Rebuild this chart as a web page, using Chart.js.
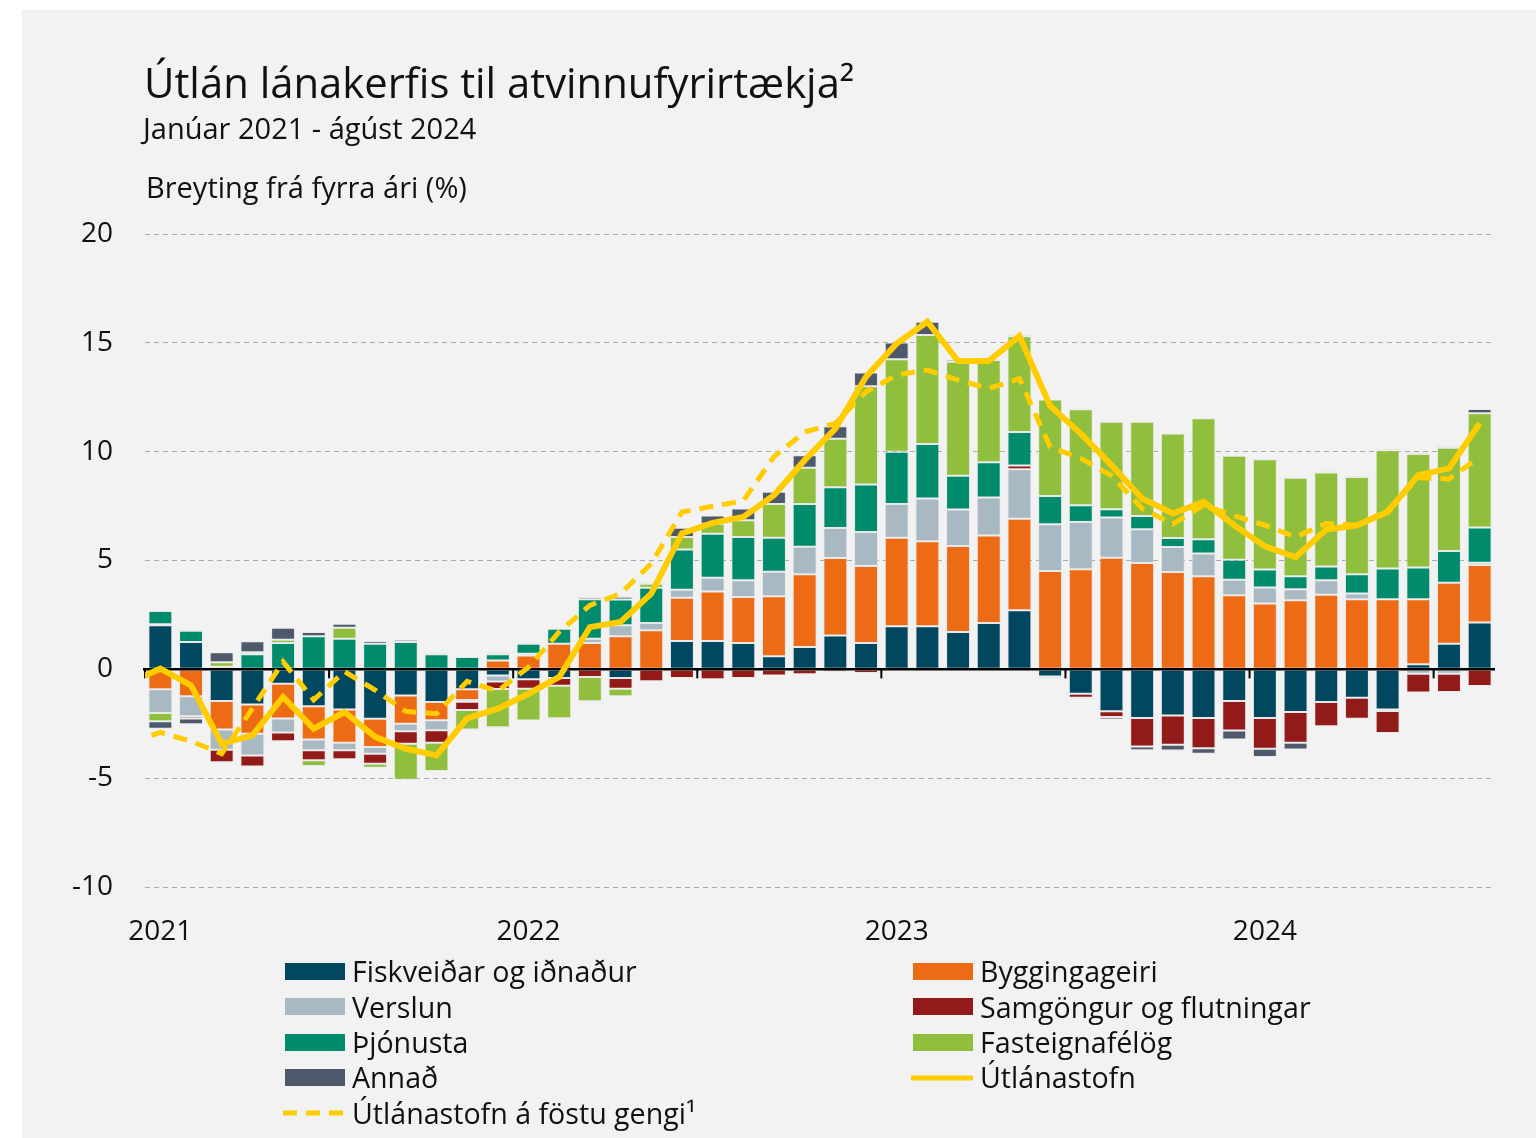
<!DOCTYPE html>
<html lang="is">
<head>
<meta charset="utf-8">
<script src="https://cdn.jsdelivr.net/npm/chart.js@4.4.1/dist/chart.umd.min.js"></script>
<style>
  html, body { margin: 0; padding: 0; background: #fff; }
  #wrap { position: relative; width: 1536px; height: 1138px; font-family: 'Open Sans', 'Noto Sans', sans-serif; color: #111; }
  #panel { position: absolute; left: 22px; top: 10px; right: 0; bottom: 0; background: #f2f2f2; }
  #chart { position: absolute; left: 0; top: 0; }
  .txt { position: absolute; white-space: nowrap; line-height: 1.2; }
  #title { left: 144px; top: 57px; font-size: 41.8px; }
  #subtitle { left: 143px; top: 111px; font-size: 29px; }
  #ytitle { left: 146px; top: 170px; font-size: 29px; }
  #legend { position: absolute; left: 285px; top: 954px; display: grid; grid-template-columns: 628px auto; grid-auto-rows: 35.3px; font-size: 28.6px; }
  .item { display: flex; align-items: center; line-height: 1.2; white-space: nowrap; }
  .sw { width: 60px; height: 17px; margin-right: 7px; flex: none; }
</style>
</head>
<body>
<div id="wrap">
  <div id="panel"></div>
  <canvas id="chart" width="1536" height="1138"></canvas>
  <div class="txt" id="title">Útlán lánakerfis til atvinnufyrirtækja²</div>
  <div class="txt" id="subtitle">Janúar 2021 - ágúst 2024</div>
  <div class="txt" id="ytitle">Breyting frá fyrra ári (%)</div>
  <div id="legend"></div>
</div>
<script>
const months = [
  '2021-01','2021-02','2021-03','2021-04','2021-05','2021-06','2021-07','2021-08','2021-09','2021-10','2021-11','2021-12',
  '2022-01','2022-02','2022-03','2022-04','2022-05','2022-06','2022-07','2022-08','2022-09','2022-10','2022-11','2022-12',
  '2023-01','2023-02','2023-03','2023-04','2023-05','2023-06','2023-07','2023-08','2023-09','2023-10','2023-11','2023-12',
  '2024-01','2024-02','2024-03','2024-04','2024-05','2024-06','2024-07','2024-08'
]

// framlag einstakra greina (prósentustig)
const fiskveidar = [2.02, 1.26, -1.46, -1.61, -0.66, -1.7, -1.85, -2.27, -1.2, -1.5, -0.92, -0.28,
  -0.46, -0.4, 0, -0.4, 0, 1.3, 1.3, 1.21, 0.6, 1.03, 1.56, 1.21,
  1.98, 1.98, 1.72, 2.13, 2.71, -0.33, -1.12, -1.93, -2.24, -2.12, -2.24, -1.46,
  -2.24, -1.96, -1.5, -1.3, -1.85, 0.23, 1.18, 2.15]
const bygging = [-0.92, -1.24, -1.3, -1.35, -1.6, -1.52, -1.52, -1.3, -1.3, -0.84, -0.49, 0.41,
  0.64, 1.18, 1.21, 1.52, 1.79, 1.99, 2.28, 2.11, 2.76, 3.34, 3.55, 3.54,
  4.06, 3.91, 3.95, 4.02, 4.21, 4.52, 4.6, 5.13, 4.89, 4.47, 4.28, 3.4,
  3.02, 3.17, 3.43, 3.22, 3.22, 2.99, 2.8, 2.64]
const verslun = [-1.09, -0.92, -0.94, -1.0, -0.64, -0.5, -0.35, -0.31, -0.35, -0.46, -0.08, -0.28,
  0.08, 0, 0.2, 0.51, 0.34, 0.37, 0.63, 0.77, 1.12, 1.26, 1.38, 1.56,
  1.55, 1.96, 1.67, 1.75, 2.27, 2.15, 2.17, 1.84, 1.55, 1.15, 1.04, 0.72,
  0.74, 0.51, 0.66, 0.26, -0.06, -0.2, -0.2, 0.11]
const samgongur = [0.05, -0.1, -0.57, -0.5, -0.4, -0.46, -0.41, -0.46, -0.57, -0.57, -0.38, -0.34,
  -0.43, -0.35, -0.35, -0.49, -0.55, -0.4, -0.46, -0.4, -0.28, -0.23, -0.12, -0.17,
  0, 0, 0, 0, 0.18, -0.07, -0.18, -0.26, -1.3, -1.35, -1.38, -1.35,
  -1.41, -1.41, -1.12, -0.97, -1.01, -0.87, -0.84, -0.77]
const thjonusta = [0.61, 0.51, 0.12, 0.69, 1.21, 1.52, 1.41, 1.18, 1.26, 0.69, 0.57, 0.28,
  0.46, 0.69, 1.81, 1.18, 1.62, 1.85, 2.02, 1.99, 1.56, 1.96, 1.88, 2.18,
  2.41, 2.5, 1.55, 1.61, 1.53, 1.29, 0.77, 0.38, 0.6, 0.41, 0.66, 0.92,
  0.83, 0.6, 0.64, 0.89, 1.41, 1.46, 1.46, 1.62]
const fasteign = [-0.37, 0.05, 0.2, 0.1, 0.15, -0.26, 0.5, -0.18, -1.65, -1.3, -0.89, -1.76,
  -1.46, -1.5, -1.12, -0.35, 0.18, 0.57, 0.46, 0.77, 1.55, 1.67, 2.22, 4.52,
  4.25, 5.01, 5.24, 4.7, 4.4, 4.44, 4.41, 4.02, 4.34, 4.8, 5.55, 4.77,
  5.06, 4.52, 4.31, 4.47, 5.44, 5.21, 4.74, 5.24]
const annad = [-0.35, -0.26, 0.47, 0.5, 0.55, 0.2, 0.18, 0.12, 0.1, 0.06, -0.05, 0.1,
  0.05, -0.05, 0.1, 0.12, 0.05, 0.43, 0.38, 0.54, 0.57, 0.58, 0.58, 0.63,
  0.77, 0.61, 0.1, 0, 0.09, -0.03, -0.05, -0.12, -0.18, -0.26, -0.26, -0.41,
  -0.38, -0.31, 0.06, 0.05, 0.08, 0.06, 0.08, 0.2]

// línur: fyrsta gildið er desember 2020 (rétt utan við myndina)
const utlanastofn = [-0.6,
  0.03, -0.74, -3.42, -3.03, -1.27, -2.73, -1.96, -3.1, -3.65, -3.95, -2.25, -1.81,
  -1.12, -0.35, 1.94, 2.18, 3.48, 6.24, 6.73, 7.0, 8.0, 9.61, 11.06, 13.44,
  14.97, 15.97, 14.16, 14.16, 15.31, 12.1, 10.83, 9.38, 7.85, 7.16, 7.69, 6.62,
  5.65, 5.16, 6.42, 6.62, 7.23, 8.92, 9.23, 11.3]
const fostuGengi = [-3.35,
  -2.9, -3.3, -3.87, -1.8, 0.35, -1.4, -0.1, -0.95, -1.93, -2.04, -0.55, -1.0,
  0.1, 1.72, 2.94, 3.48, 4.86, 7.23, 7.49, 7.74, 9.77, 10.9, 11.3, 12.75,
  13.52, 13.75, 13.29, 12.9, 13.36, 10.22, 9.69, 8.9, 7.39, 6.67, 7.54, 7.05,
  6.62, 6.08, 6.7, 6.62, 7.3, 8.8, 8.75, 9.75]

const yellow = '#FFCC00'
const sectors = [
  ['Fiskveiðar og iðnaður', fiskveidar, '#00475F'],
  ['Byggingageiri', bygging, '#EC6B14'],
  ['Verslun', verslun, '#A8B9C4'],
  ['Samgöngur og flutningar', samgongur, '#921A18'],
  ['Þjónusta', thjonusta, '#008C6C'],
  ['Fasteignafélög', fasteign, '#8FBF3D'],
  ['Annað', annad, '#4E5A6C']
]

const datasets = sectors.map(([label, data, color]) => ({
  type: 'bar', label, data, backgroundColor: color,
  borderColor: 'rgba(225,225,225,0.6)', borderWidth: 1, borderSkipped: false,
  stack: 'greinar', grouped: false, categoryPercentage: 1, barPercentage: 0.78, order: 3
}))
datasets.push({
  type: 'line', label: 'Útlánastofn', xAxisID: 'xl', stack: 's1', order: 1,
  data: utlanastofn.map((v, i) => ({ x: i - 1, y: v })),
  borderColor: yellow, borderWidth: 6, pointRadius: 0, tension: 0, clip: 0
})
datasets.push({
  type: 'line', label: 'Útlánastofn á föstu gengi¹', xAxisID: 'xl', stack: 's2', order: 2,
  data: fostuGengi.map((v, i) => ({ x: i - 1, y: v })),
  borderColor: yellow, borderWidth: 5, borderDash: [14, 9], pointRadius: 0, tension: 0, clip: 0
})

// núlllína og hak á 6 mánaða fresti, teiknað yfir súlurnar en undir línunum
const zeroLine = {
  id: 'zeroLine',
  beforeDraw(chart) { this.done = false },
  beforeDatasetDraw(chart, args) {
    if (this.done || chart.data.datasets[args.index].type !== 'line') return
    this.done = true
    const { ctx, chartArea: a, scales: { x, y } } = chart
    const y0 = y.getPixelForValue(0)
    const half = (x.getPixelForValue(1) - x.getPixelForValue(0)) / 2
    ctx.save()
    ctx.strokeStyle = '#000'
    ctx.lineWidth = 2.5
    ctx.beginPath()
    ctx.moveTo(a.left - 2, y0)
    ctx.lineTo(a.right, y0)
    ctx.stroke()
    ctx.lineWidth = 2
    for (let i = 0; i < months.length; i += 6) {
      const px = x.getPixelForValue(i) - half
      ctx.beginPath()
      ctx.moveTo(px, y0)
      ctx.lineTo(px, y0 + 9)
      ctx.stroke()
    }
    ctx.restore()
  }
}

const axisFont = { family: "'Open Sans'", size: 28 }

const chart = new Chart(document.getElementById('chart'), {
  data: { labels: months, datasets },
  options: {
    responsive: false,
    animation: false,
    layout: { padding: { top: 234, right: 41, left: 0, bottom: 0 } },
    plugins: { legend: { display: false }, tooltip: { enabled: false } },
    scales: {
      x: {
        type: 'category', offset: true,
        grid: { display: false, drawTicks: false }, border: { display: false },
        ticks: {
          autoSkip: false, maxRotation: 0, padding: 28, color: '#111', font: axisFont,
          callback: (v, i) => i % 12 === 0 ? months[i].slice(0, 4) : ''
        },
        afterFit: (s) => { s.height = 251 }
      },
      xl: { type: 'linear', display: false, min: -0.5, max: months.length - 0.5 },
      y: {
        stacked: true, min: -10, max: 20,
        grid: {
          drawTicks: false, lineWidth: 1,
          color: (c) => c.tick && c.tick.value === 0 ? 'rgba(0,0,0,0)' : '#ababab'
        },
        border: { display: false, dash: [5, 4] },
        ticks: { stepSize: 5, padding: 32, color: '#111', font: axisFont },
        afterFit: (s) => { s.width = 145 }
      }
    }
  },
  plugins: [zeroLine]
})

// skýringar í tveimur dálkum, byggðar á gagnaröðunum
const legend = document.getElementById('legend')
chart.data.datasets.forEach((ds) => {
  const item = document.createElement('div')
  item.className = 'item'
  let sw
  if (ds.type === 'bar') {
    sw = `<span class="sw" style="background:${ds.backgroundColor}"></span>`
  } else {
    const dash = ds.borderDash ? `stroke-dasharray="${ds.borderDash.join(' ')}"` : ''
    sw = `<svg class="sw" width="62" height="18" style="width:62px;height:18px;margin-left:-2px;margin-right:7px"><line x1="0" y1="9" x2="62" y2="9" stroke="${ds.borderColor}" stroke-width="5" ${dash}/></svg>`
  }
  item.innerHTML = sw + `<span>${ds.label}</span>`
  legend.appendChild(item)
})
</script>
</body>
</html>
